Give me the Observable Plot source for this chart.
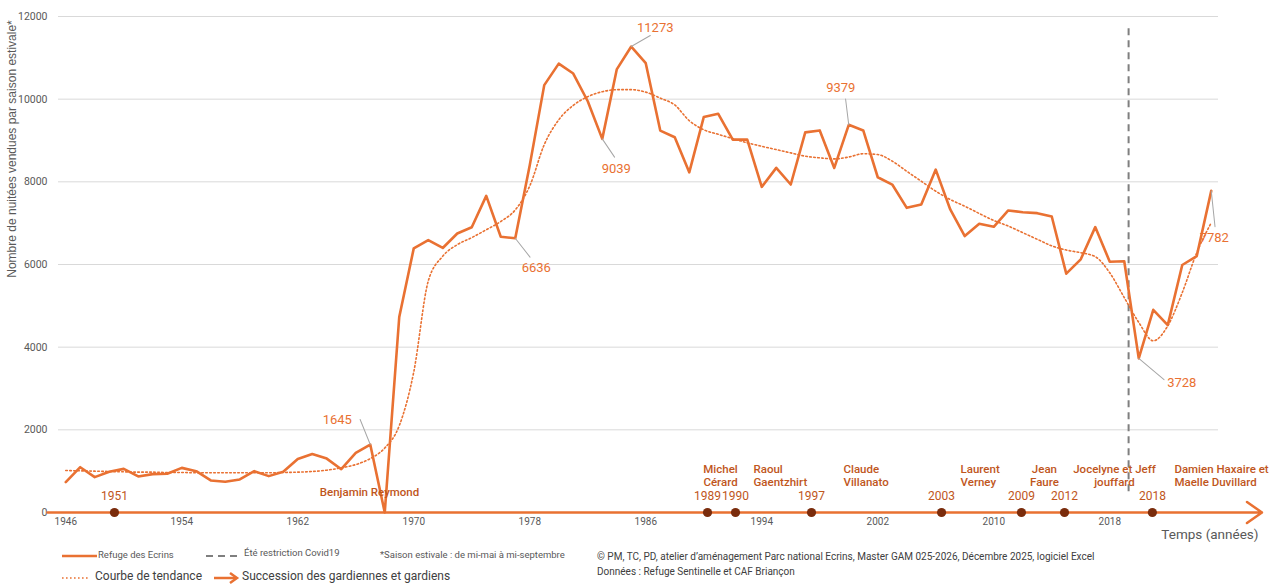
<!DOCTYPE html>
<html><head><meta charset="utf-8">
<script src="https://cdn.jsdelivr.net/npm/d3@7"></script>
<script src="https://cdn.jsdelivr.net/npm/@observablehq/plot@0.6"></script>
<style>
body{margin:0;background:#fff;}
#wrap{position:relative;width:1277px;height:585px;overflow:hidden;font-family:Roboto,"Liberation Sans",sans-serif;background:#fff;}
.lg{position:absolute;white-space:nowrap;color:#404040;line-height:1;}
.sw{position:absolute;}
#ytitle{position:absolute;left:12px;top:149px;transform:translate(-50%,-50%) rotate(-90deg);white-space:nowrap;font-family:"Liberation Sans",Arial,sans-serif;font-size:12px;color:#595959;line-height:1;}
</style></head><body><div id="wrap"></div>
<script>
// ---- data ----
const years = d3.range(1946, 2026);
const nuitees = [736,1096,856,984,1056,872,928,936,1080,1000,
  776,744,800,1000,880,984,1296,1416,1304,1048,
  1440,1645,0,4730,6390,6590,6400,6750,6900,7660,
  6670,6636,8400,10340,10860,10620,9950,9039,10720,11273,
  10870,9240,9080,8230,9566,9646,9020,9020,7878,8337,
  7935,9196,9244,8336,9379,9244,8111,7934,7371,7451,
  8296,7331,6688,6985,6913,7307,7266,7242,7162,5779,
  6125,6905,6068,6077,3728,4903,4533,5988,6205,7782];
const tendance = [1016,1008,1000,992,984,976,976,968,968,960,
  960,960,960,960,960,968,976,992,1024,1080,
  1160,1304,1560,2100,3400,5600,6200,6480,6650,6840,
  7040,7320,7900,8900,9500,9850,10060,10180,10230,10230,
  10170,10025,9860,9480,9260,9150,9045,8945,8860,8780,
  8700,8620,8580,8555,8600,8680,8660,8500,8255,8015,
  7773,7572,7410,7234,7065,6930,6770,6610,6450,6350,
  6285,6190,5800,5200,4600,4155,4515,5320,6285,7010];
const xTickYears = [1946,1954,1962,1970,1978,1986,1994,2002,2010,2018];
const yTicks = [0,2000,4000,6000,8000,10000,12000];
const labeledYears = [1967,1977,1983,1985,2000,2020,2025];
const gardienYears = [1951,1989,1990,1997,2003,2009,2012,2018];
const gardienNames = ["Benjamin Reymond","Michel\nCérard","Raoul\nGaentzhirt","Claude\nVillanato","Laurent\nVerney","Jean\nFaure","Jocelyne et Jeff\njouffard","Damien Haxaire et\nMaelle Duvillard"];
const gardienMarkerAt = [1949.36,1990.26,1992.19,1997.43,2006.40,2011.91,2014.88,2020.94];
const covidYear = 2019.3;
const covidSpan = [500, 11800];
const timeArrowSpan = [1944.74, 2028.5];
const yTitle = "Nombre de nuitées vendues par saison estivale*";

const serie = years.map((y, i) => ({year: y, nuitees: nuitees[i], tendance: tendance[i]}));

// ---- styles ----
const ORANGE = "#E97132", BROWN = "#C0561C", DOT = "#7A2C0C", GREY = "#595959";
const labelStyle = {
  1967: {dx: -33, dy: -25, len: 27, rot: -22},
  1977: {dx: 21, dy: 30, len: 24, rot: 142},
  1983: {dx: 14, dy: 30, len: 22, rot: 146},
  1985: {dx: 24, dy: -19, len: 22, rot: 60},
  2000: {dx: -8, dy: -37, len: 26, rot: -7},
  2020: {dx: 43, dy: 24, len: 33, rot: 130},
  2025: {dx: 3, dy: 47, len: 36, rot: 174}
};
const nameStyle = [
  {dx: 255, dy: -21, anchor: "middle"},
  {dx: 13, dy: -37.5, anchor: "middle"},
  {dx: 18, dy: -37.5, anchor: "start"},
  {dx: 32, dy: -37.5, anchor: "start"},
  {dx: 19, dy: -37.5, anchor: "start"},
  {dx: 23, dy: -37.5, anchor: "middle"},
  {dx: 50, dy: -37.5, anchor: "middle"},
  {dx: 22, dy: -37.5, anchor: "start"}
];

const marks = [
  Plot.gridY(yTicks.filter(t => t > 0), {stroke: "#d9d9d9", strokeOpacity: 1, strokeWidth: 1}),
  Plot.axisY({ticks: yTicks, tickSize: 0, tickPadding: 11, tickFormat: d => String(d), fontSize: 10.5, color: GREY, label: null}),
  Plot.axisX({ticks: xTickYears, tickSize: 0, tickPadding: 5, tickFormat: d => String(d), fontSize: 10, color: GREY, label: null}),
  Plot.ruleX([covidYear], {y1: () => covidSpan[0], y2: () => covidSpan[1], stroke: "#7f7f7f", strokeWidth: 2, strokeDasharray: "7,5"}),
  Plot.line(serie, {x: "year", y: "tendance", stroke: ORANGE, strokeWidth: 1.6, strokeDasharray: "1.6,2.4", curve: "monotone-x"}),
  Plot.line(serie, {x: "year", y: "nuitees", stroke: ORANGE, strokeWidth: 2.6, strokeLinejoin: "round"}),
  Plot.arrow([timeArrowSpan], {x1: d => d[0], x2: d => d[1], y1: () => 0, y2: () => 0, stroke: ORANGE, strokeWidth: 2.5, headLength: 11, headAngle: 70}),
  Plot.dot(gardienMarkerAt, {x: d => d, y: () => 0, r: 4.6, fill: DOT, stroke: "none"}),
  Plot.text(gardienMarkerAt, {x: d => d, y: () => 0, text: (d, i) => String(gardienYears[i]), dy: -16, fill: BROWN, fontSize: 12}),
  Plot.text(["Temps (années)"], {frameAnchor: "bottom-right", lineAnchor: "middle", textAnchor: "end", dx: 40, dy: 22, fontSize: 13.5, fill: GREY})
];
gardienNames.forEach((name, i) => {
  const s = nameStyle[i];
  marks.push(Plot.text([gardienMarkerAt[i]], {x: d => d, y: () => 0, text: () => name, dx: s.dx, dy: s.dy, textAnchor: s.anchor, lineHeight: 1.13, fill: BROWN, fontSize: 11.5, fontWeight: 500}));
});
labeledYears.forEach(yr => {
  const s = labelStyle[yr];
  const row = serie.find(d => d.year === yr);
  marks.push(Plot.vector([row], {x: "year", y: "nuitees", length: s.len, rotate: s.rot, anchor: "start", r: 0, stroke: "#a6a6a6", strokeWidth: 1}));
  marks.push(Plot.text([row], {x: "year", y: "nuitees", text: d => String(d.nuitees), dx: s.dx, dy: s.dy, fill: ORANGE, fontSize: 13}));
});

const chart = Plot.plot({
  width: 1277, height: 545,
  marginLeft: 58, marginRight: 59, marginTop: 16, marginBottom: 33,
  x: {domain: [1945.5, 2025.5], axis: null},
  y: {domain: [0, 12000], axis: null},
  style: {fontFamily: "Roboto, 'Liberation Sans', sans-serif", background: "white", overflow: "visible"},
  marks
});
const wrap = document.getElementById("wrap");
wrap.appendChild(chart);

// y-axis title (HTML, rotated)
const yt = document.createElement("div");
yt.id = "ytitle";
yt.textContent = yTitle;
wrap.appendChild(yt);

// ---- legend (HTML below the SVG) ----
function txt(x, cy, s, size, color) {
  const e = document.createElement("span");
  e.className = "lg";
  e.textContent = s;
  e.style.left = x + "px";
  e.style.top = (cy - size * 0.55) + "px";
  e.style.fontSize = size + "px";
  if (color) e.style.color = color;
  wrap.appendChild(e);
}
function sw(x, cy, w, inner) {
  const d = document.createElement("div");
  d.className = "sw";
  d.style.left = x + "px";
  d.style.top = (cy - 7) + "px";
  d.innerHTML = `<svg width="${w}" height="14">${inner}</svg>`;
  wrap.appendChild(d);
}
sw(62, 555, 36, `<line x1="0" y1="7" x2="35" y2="7" stroke="${ORANGE}" stroke-width="2.5"/>`);
txt(98, 555, "Refuge des Ecrins", 9.5, GREY);
sw(206, 555, 34, `<line x1="0" y1="7" x2="32" y2="7" stroke="#7f7f7f" stroke-width="2" stroke-dasharray="7,5"/>`);
txt(244, 553, "Été restriction Covid19", 9.5, GREY);
txt(380, 555, "*Saison estivale : de mi-mai à mi-septembre", 9.5, GREY);
txt(597, 557, "© PM, TC, PD, atelier d’aménagement Parc national  Ecrins, Master GAM 025-2026, Décembre 2025, logiciel Excel", 10, "#404040");
sw(62, 577, 28, `<line x1="0" y1="7" x2="26" y2="7" stroke="${ORANGE}" stroke-width="1.6" stroke-dasharray="1.6,2.4"/>`);
txt(95, 577, "Courbe de tendance", 12, "#404040");
sw(214, 577, 26, `<line x1="0" y1="7" x2="22" y2="7" stroke="${ORANGE}" stroke-width="2.5"/><path d="M16,2 L23,7 L16,12" fill="none" stroke="${ORANGE}" stroke-width="2.5"/>`);
txt(242, 577, "Succession des gardiennes et gardiens", 12, "#404040");
txt(597, 572, "Données : Refuge Sentinelle et CAF Briançon", 10, "#404040");
</script>
</body></html>
